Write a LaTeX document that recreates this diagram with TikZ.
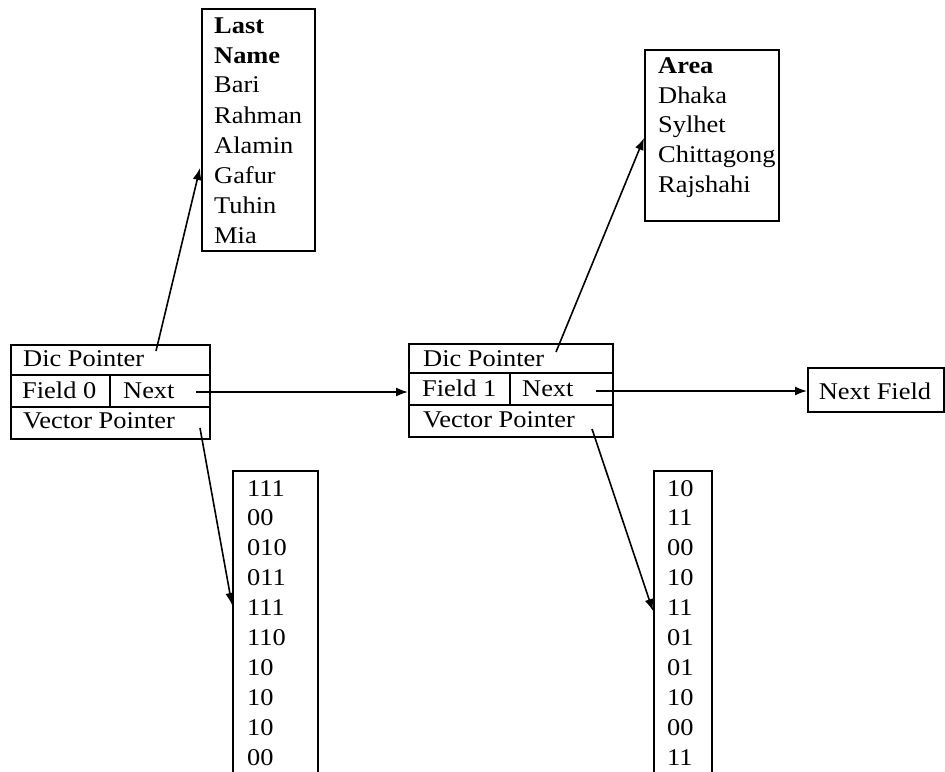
\documentclass[tikz,border=0pt]{standalone}
\usepackage{fontspec}
\setmainfont{Liberation Serif}[FakeStretch=1.1]
\usetikzlibrary{arrows.meta}
\begin{document}
\begin{tikzpicture}[x=1pt,y=-1pt,
  box/.style={draw=black,line width=1.7pt,inner sep=0pt,anchor=north west},
  rowline/.style={draw=black,line width=1.7pt},
  txt/.style={anchor=base west,inner sep=0pt,font=\fontsize{24}{29}\selectfont},
  conn/.style={draw=black,line width=1.6pt,-{Latex[length=12pt,width=9pt]}}]
\useasboundingbox (0,0) rectangle (945,771);
\clip (0,0) rectangle (945,771);
\fill[white] (0,0) rectangle (945,771);

% Last Name box
\node[box,minimum width=113pt,minimum height=242pt] (lnbox) at (201,8) {};
\foreach \t/\y/\n in {Bari/92/ln1,Rahman/123/ln2,Alamin/153/ln3,Gafur/183/ln4,Tuhin/213/ln5,Mia/243/ln6}
  \node[txt] (\n) at (214,\y) {\t};
\node[txt] (lnh1) at (214,33) {\bfseries Last};
\node[txt] (lnh2) at (214,63) {\bfseries Name};

% Area box
\node[box,minimum width=134pt,minimum height=171pt] (arbox) at (644,49) {};
\node[txt] (arh) at (658,73) {\bfseries Area};
\foreach \t/\y/\n in {Dhaka/103/ar1,Sylhet/132/ar2,Chittagong/162/ar3,Rajshahi/192/ar4}
  \node[txt] (\n) at (658,\y) {\t};

% Field 0 record
\node[box,minimum width=199pt,minimum height=94pt] (rec0) at (10,344) {};
\draw[rowline] (10,375) -- (209,375);
\draw[rowline] (10,407) -- (209,407);
\draw[rowline] (110,375) -- (110,407);
\node[txt] (dp0) at (23,366) {Dic Pointer};
\node[txt] (f0) at (22,398) {Field 0};
\node[txt] (nx0) at (123,398) {Next};
\node[txt] (vp0) at (23,428) {Vector Pointer};

% Field 1 record
\node[box,minimum width=204pt,minimum height=93pt] (rec1) at (408,343) {};
\draw[rowline] (408,373) -- (612,373);
\draw[rowline] (408,405) -- (612,405);
\draw[rowline] (510,373) -- (510,405);
\node[txt] (dp1) at (423,366) {Dic Pointer};
\node[txt] (f1) at (422,396) {Field 1};
\node[txt] (nx1) at (522,396) {Next};
\node[txt] (vp1) at (423,427) {Vector Pointer};

% Next Field
\node[box,minimum width=136pt,minimum height=44pt] (nf) at (807,367) {};
\node[txt,anchor=base] (nft) at (875,399) {Next Field};

% Vector boxes
\node[box,minimum width=85pt,minimum height=320pt] (vb0) at (232,470) {};
\node[box,minimum width=58pt,minimum height=320pt] (vb1) at (653,470) {};
\foreach \t [count=\i from 0] in {111,00,010,011,111,110,10,10,10,00}
  \node[txt] (va\i) at (247,496+29.9*\i) {\t};
\foreach \t [count=\i from 0] in {10,11,00,10,11,01,01,10,00,11}
  \node[txt] (vc\i) at (667,496+29.9*\i) {\t};

% connector end points
\coordinate (s1) at (156,351);
\coordinate (e1) at (200,168);
\coordinate (s2) at (196,392);
\coordinate (e2) at (408,392);
\coordinate (s3) at (200,428);
\coordinate (e3) at (232,605);
\coordinate (s4) at (556,352);
\coordinate (e4) at (644,138);
\coordinate (s5) at (596,391);
\coordinate (e5) at (807,391);
\coordinate (s6) at (592,429);
\coordinate (e6) at (653,611);

\draw[conn] (s1) -- (e1);
\draw[conn] (s2) -- (e2);
\draw[conn] (s3) -- (e3);
\draw[conn] (s4) -- (e4);
\draw[conn] (s5) -- (e5);
\draw[conn] (s6) -- (e6);
\end{tikzpicture}
\end{document}
